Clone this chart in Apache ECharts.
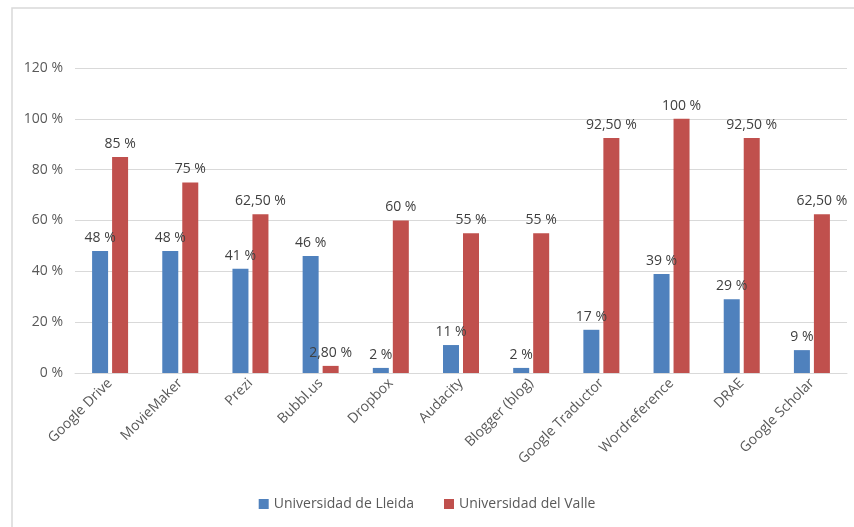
<!DOCTYPE html>
<html><head><meta charset="utf-8">
<script src="https://cdn.jsdelivr.net/npm/echarts@6/dist/echarts.min.js"></script>
<style>html,body{margin:0;padding:0;background:#fff}#c{width:854px;height:527px}</style>
</head><body><div id="c"></div>
<script>
const categories = ["Google Drive","MovieMaker","Prezi","Bubbl.us","Dropbox","Audacity","Blogger (blog)","Google Traductor","Wordreference","DRAE","Google Scholar"];
const lleida = [48,48,41,46,2,11,2,17,39,29,9];
const valle = [85,75,62.5,2.8,60,55,55,92.5,100,92.5,62.5];
const yTicks = [0,20,40,60,80,100,120];
const seriesNames = ["Universidad de Lleida","Universidad del Valle"];

const FONT = '"Open Sans", Lato, sans-serif';
function fmt(v){
  return Number.isInteger(v) ? v + ' %' : v.toFixed(2).replace('.', ',') + ' %';
}
const chart = echarts.init(document.getElementById('c'));
chart.setOption({
  animation:false,
  textStyle:{fontFamily:FONT},
  graphic:[{type:'rect',shape:{x:12,y:8,width:900,height:600},style:{fill:'none',stroke:'#d9d9d9',lineWidth:1.5},silent:true}],
  grid:{left:75,right:7,top:68,bottom:154},
  legend:{bottom:11,left:'center',itemWidth:10,itemHeight:10,itemGap:30,icon:'rect',
    textStyle:{fontFamily:FONT,fontSize:14,color:'#595959'},data:seriesNames},
  xAxis:{type:'category',data:categories,
    axisLine:{lineStyle:{color:'#d9d9d9',width:1}},axisTick:{show:false},
    axisLabel:{rotate:45,interval:0,fontSize:14,color:'#595959',fontFamily:FONT,margin:8}},
  yAxis:{type:'value',min:yTicks[0],max:yTicks[yTicks.length-1],interval:20,
    splitLine:{lineStyle:{color:'#d9d9d9'}},axisLine:{show:false},axisTick:{show:false},
    axisLabel:{fontSize:14,color:'#595959',fontFamily:FONT,margin:12,formatter:v=>v+' %'}},
  series:[
    {name:seriesNames[0],type:'bar',data:lleida,barWidth:16,barGap:'25%',
      itemStyle:{color:'#4F81BD'},
      label:{show:true,position:'top',distance:6,fontSize:14,color:'#404040',fontFamily:FONT,formatter:p=>fmt(p.value)}},
    {name:seriesNames[1],type:'bar',data:valle,barWidth:16,barGap:'25%',
      itemStyle:{color:'#C0504D'},
      label:{show:true,position:'top',distance:6,fontSize:14,color:'#404040',fontFamily:FONT,formatter:p=>fmt(p.value)}}
  ]
});
</script></body></html>
